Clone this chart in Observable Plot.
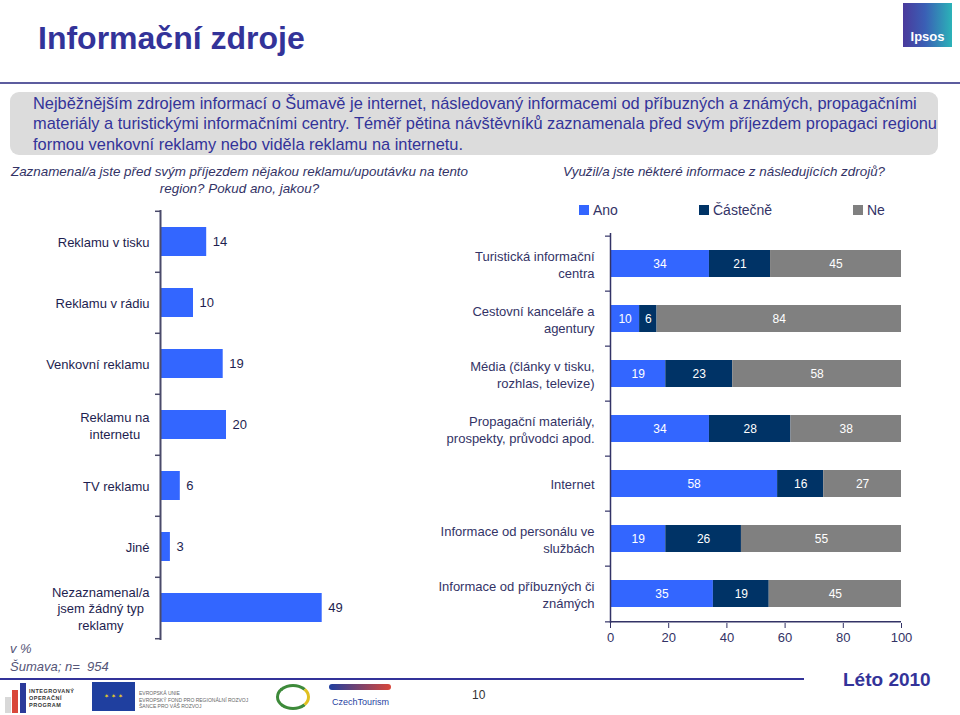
<!DOCTYPE html>
<html>
<head>
<meta charset="utf-8">
<script src="https://cdn.jsdelivr.net/npm/d3@7"></script>
<script src="https://cdn.jsdelivr.net/npm/@observablehq/plot@0.6"></script>
<style>
  html, body { margin: 0; padding: 0; background: #fff; }
  #page { position: relative; width: 960px; height: 715px; overflow: hidden; font-family: "Liberation Sans", Arial, sans-serif; }
  .abs { position: absolute; }
  #title { left: 38px; top: 20px; font-size: 32px; font-weight: bold; color: #333399; }
  #topline { left: 0; top: 82px; width: 960px; height: 2px; background: #5c5c9e; }
  #box { left: 10px; top: 92px; width: 928px; height: 63px; background: #dcdcdc; border-radius: 9px; }
  #boxtext { left: 33px; top: 93px; width: 920px; font-size: 16.4px; line-height: 20.3px; color: #333399; white-space: nowrap; }
  .sub { font-size: 13.4px; font-style: italic; color: #333366; line-height: 17px; }
  #subL { left: 2px; top: 163px; width: 475px; text-align: center; }
  #subR { left: 563px; top: 163px; }
  .leg { top: 202px; font-size: 14px; color: #333366; display: flex; align-items: center; }
  .sw { display: inline-block; width: 10px; height: 10px; margin-right: 4px; }
  #footA { left: 10px; top: 640px; font-size: 13px; font-style: italic; color: #555577; line-height: 18px; }
  #footline { left: 0; top: 678px; width: 804px; height: 2px; background: #333399; }
  #pg { left: 472px; top: 688px; font-size: 12px; color: #333; }
  #leto { left: 843px; top: 669px; font-size: 19px; font-weight: bold; color: #333399; }
  #ipsos { left: 903px; top: 3px; width: 49px; height: 44px; background: linear-gradient(90deg, #4a3a9c 0%, #3a5fb5 45%, #2bb3b8 100%); color: #fff; font-weight: bold; font-size: 13px; text-align: center; line-height: 68px; }
  .tiny { font-size: 5.5px; color: #333; line-height: 7px; font-weight: bold; letter-spacing: 0.5px; }
  .tinyg { font-size: 5px; color: #666; line-height: 6.5px; }
</style>
</head>
<body>
<div id="page">
  <div id="title" class="abs">Informační zdroje</div>
  <div id="ipsos" class="abs">Ipsos</div>
  <div id="topline" class="abs"></div>
  <div id="box" class="abs"></div>
  <div id="boxtext" class="abs">Nejběžnějším zdrojem informací o Šumavě je internet, následovaný informacemi od příbuzných a známých, propagačními<br>materiály a turistickými informačními centry. Téměř pětina návštěvníků zaznamenala před svým příjezdem propagaci regionu<br>formou venkovní reklamy nebo viděla reklamu na internetu.</div>
  <div id="subL" class="abs sub">Zaznamenal/a jste před svým příjezdem nějakou reklamu/upoutávku na tento<br>region? Pokud ano, jakou?</div>
  <div id="subR" class="abs sub">Využil/a jste některé informace z následujících zdrojů?</div>
  <div id="legend"></div>
  <div id="chartL" class="abs" style="left:0;top:200px;"></div>
  <div id="chartR" class="abs" style="left:430px;top:220px;"></div>
  <div id="footA" class="abs">v %<br>Šumava; n=&nbsp; 954</div>
  <div id="footline" class="abs"></div>
  <div id="pg" class="abs">10</div>
  <div id="leto" class="abs">Léto 2010</div>
  <!-- logos (decorative approximations) -->
  <div class="abs" style="left:5px;top:697px;width:6px;height:16px;background:#d8d8d8;"></div>
  <div class="abs" style="left:12px;top:690px;width:6px;height:23px;background:#d9473a;"></div>
  <div class="abs" style="left:20px;top:683px;width:6px;height:30px;background:#2b3a9a;"></div>
  <div class="abs tiny" style="left:29px;top:688px;">INTEGROVANÝ<br>OPERAČNÍ<br>PROGRAM</div>
  <div class="abs" style="left:92px;top:682px;width:43px;height:29px;background:#1f3f9f;color:#f2d21b;font-size:6px;text-align:center;line-height:29px;">✶ ✶ ✶</div>
  <div class="abs tinyg" style="left:139px;top:690px;">EVROPSKÁ UNIE<br>EVROPSKÝ FOND PRO REGIONÁLNÍ ROZVOJ<br>ŠANCE PRO VÁŠ ROZVOJ</div>
  <div class="abs" style="left:276px;top:684px;width:34px;height:26px;border-radius:50%;border:3px solid #3d8a3a;border-right-color:#e0c020;box-sizing:border-box;"></div>
  <div class="abs" style="left:329px;top:684px;width:62px;height:6px;border-radius:3px;background:linear-gradient(90deg,#1f3f9f,#d9473a);"></div>
  <div class="abs" style="left:332px;top:697px;font-size:9px;color:#1f3f9f;">CzechTourism</div>
</div>
<script>
// ---------- data ----------
const leftCats = ["Reklamu v tisku", "Reklamu v rádiu", "Venkovní reklamu", "Reklamu na\ninternetu", "TV reklamu", "Jiné", "Nezaznamenal/a\njsem žádný typ\nreklamy"];
const leftValues = [14, 10, 19, 20, 6, 3, 49];

const rightCats = ["Turistická informační\ncentra", "Cestovní kanceláře a\nagentury", "Média (články v tisku,\nrozhlas, televize)", "Propagační materiály,\nprospekty, průvodci apod.", "Internet", "Informace od personálu ve\nslužbách", "Informace od příbuzných či\nznámých"];
const seriesNames = ["Ano", "Částečně", "Ne"];
const anoValues = [34, 10, 19, 34, 58, 19, 35];
const castecneValues = [21, 6, 23, 28, 16, 26, 19];
const neValues = [45, 84, 58, 38, 27, 55, 45];
const xTicks = [0, 20, 40, 60, 80, 100];
const seriesColors = ["#3366ff", "#003366", "#808080"];

// ---------- legend ----------
const legendX = [579, 699, 853];
const legend = document.getElementById("legend");
seriesNames.forEach((s, i) => {
  const d = document.createElement("div");
  d.className = "abs leg";
  d.style.left = legendX[i] + "px";
  d.innerHTML = `<span class="sw" style="background:${seriesColors[i]}"></span>${s}`;
  legend.appendChild(d);
});

// ---------- left chart ----------
const leftRows = leftCats.map((c, i) => ({cat: c, value: leftValues[i]}));
const LW = 500, LH = 450, LML = 160, LMR = 10, LMT = 10, LMB = 10;
const kL = (LW - LML - LMR) / 100;
const stepL = (LH - LMT - LMB) / leftCats.length;
const cv = document.createElement("canvas").getContext("2d");
cv.font = "13px 'Liberation Sans', Arial";
const maxW = s => Math.max(...s.split("\n").map(l => cv.measureText(l).width));

const left = Plot.plot({
  width: LW, height: LH,
  marginLeft: LML, marginRight: LMR, marginTop: LMT, marginBottom: LMB,
  style: {fontFamily: "'Liberation Sans', Arial, sans-serif", fontSize: "13px", overflow: "visible", background: "transparent"},
  x: {domain: [0, 100], axis: null},
  y: {domain: leftCats, paddingInner: 0.52, paddingOuter: 0.26, axis: null},
  marks: [
    Plot.barX(leftRows, {x: "value", y: "cat", fill: "#3366ff"}),
    Plot.ruleX([0], {stroke: "#4a4a6a", strokeWidth: 2}),
    Plot.ruleY(leftCats, {y: d => d, x1: -5 / kL, x2: 0, dy: -stepL / 2, stroke: "#4a4a6a", strokeWidth: 1.5}),
    Plot.ruleY([leftCats[leftCats.length - 1]], {y: d => d, x1: -5 / kL, x2: 0, dy: stepL / 2, stroke: "#4a4a6a", strokeWidth: 1.5}),
    Plot.text(leftRows, {x: "value", y: "cat", text: d => String(d.value), textAnchor: "start", dx: 6, fill: "#1e1e50", fontSize: 13}),
    Plot.text(leftCats, {y: d => d, x: d => -(11 + maxW(d) / 2) / kL, text: d => d, textAnchor: "middle", lineHeight: 1.3, fill: "#1e1e50", fontSize: 13})
  ]
});
document.getElementById("chartL").appendChild(left);

// ---------- right chart ----------
const rightRows = [];
rightCats.forEach((c, i) => {
  [anoValues[i], castecneValues[i], neValues[i]].forEach((v, j) => rightRows.push({cat: c, series: seriesNames[j], value: v}));
});
const RW = 530, RH = 430, RML = 180, RMR = 59, RMT = 13, RMB = 27;
const kR = (RW - RML - RMR);
const stepR = (RH - RMT - RMB) / rightCats.length;
const stackOpts = {x: "value", y: "cat", z: "series", order: seriesNames, offset: "normalize"};

const right = Plot.plot({
  width: RW, height: RH,
  marginLeft: RML, marginRight: RMR, marginTop: RMT, marginBottom: RMB,
  style: {fontFamily: "'Liberation Sans', Arial, sans-serif", fontSize: "13px", overflow: "visible", background: "transparent"},
  x: {domain: [0, 1], label: null},
  y: {domain: rightCats, paddingInner: 0.51, paddingOuter: 0.255, axis: null},
  color: {domain: seriesNames, range: seriesColors},
  marks: [
    Plot.barX(rightRows, Plot.stackX({...stackOpts, fill: "series"})),
    Plot.text(rightRows, Plot.stackX({...stackOpts, text: d => String(d.value), fill: "white", fontSize: 12})),
    Plot.ruleX([0], {stroke: "#333366", strokeWidth: 1.5}),
    Plot.ruleY([rightCats[rightCats.length - 1]], {y: d => d, dy: stepR / 2, stroke: "#333366", strokeWidth: 1.5}),
    Plot.ruleY(rightCats, {y: d => d, x1: -5 / kR, x2: 0, dy: -stepR / 2, stroke: "#333366", strokeWidth: 1.2}),
    Plot.ruleY([rightCats[rightCats.length - 1]], {y: d => d, x1: -5 / kR, x2: 0, dy: stepR / 2, stroke: "#333366", strokeWidth: 1.2}),
    Plot.axisX({ticks: xTicks.map(t => t / 100), tickFormat: d => String(Math.round(d * 100)), label: null, tickSize: 5, tickPadding: 4, fontSize: 13, color: "#333366", stroke: "#333366"}),
    Plot.text(rightCats, {y: d => d, frameAnchor: "left", text: d => d, textAnchor: "end", dx: -16, lineHeight: 1.3, fill: "#333366", fontSize: 13})
  ]
});
document.getElementById("chartR").appendChild(right);
</script>
</body>
</html>
